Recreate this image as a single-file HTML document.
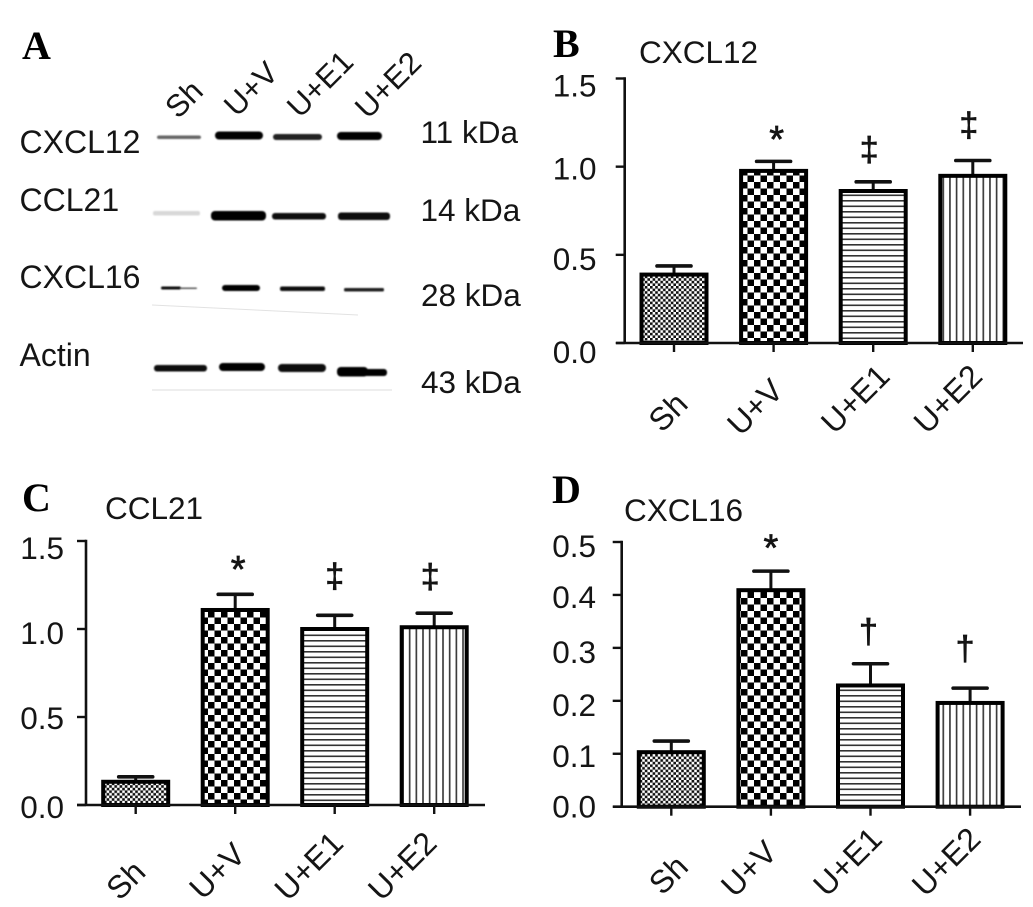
<!DOCTYPE html>
<html lang="en">
<head>
<meta charset="utf-8">
<title>CXCL12, CCL21 and CXCL16 expression</title>
<style>
html,body{margin:0;padding:0;background:#fff;width:1033px;height:907px;overflow:hidden}
svg{display:block;filter:blur(0.3px)}
text{font-family:"Liberation Sans",sans-serif;fill:#151515}
.letter{font-family:"Liberation Serif",serif;font-weight:bold;font-size:40px;fill:#000}
</style>
</head>
<body>
<svg id="figure" xmlns="http://www.w3.org/2000/svg" width="1033" height="907" viewBox="0 0 1033 907">
<defs>
<filter id="soft" x="-20%" y="-100%" width="140%" height="300%"><feGaussianBlur stdDeviation="0.9"/></filter>
<pattern id="fine-check" patternUnits="userSpaceOnUse" width="5.2" height="5.2"><rect width="5.2" height="5.2" fill="#fff"/><rect width="2.6" height="2.6" fill="#111"/><rect x="2.6" y="2.6" width="2.6" height="2.6" fill="#111"/></pattern>
<pattern id="coarse-check" patternUnits="userSpaceOnUse" width="13" height="13"><rect width="13" height="13" fill="#fff"/><rect width="6.5" height="6.5" fill="#000"/><rect x="6.5" y="6.5" width="6.5" height="6.5" fill="#000"/></pattern>
<pattern id="h-lines" patternUnits="userSpaceOnUse" width="5.5" height="5.5"><rect width="5.5" height="5.5" fill="#fff"/><rect y="2" width="5.5" height="1.6" fill="#333"/></pattern>
<pattern id="v-lines" patternUnits="userSpaceOnUse" width="6.67" height="6.67"><rect width="6.67" height="6.67" fill="#fff"/><rect x="2" width="1.6" height="6.67" fill="#333"/></pattern>
</defs>

<g>
<text class="letter" x="22" y="59">A</text>
<text x="184" y="99" font-size="31" text-anchor="middle" dominant-baseline="central" transform="rotate(-45 184 99)">Sh</text>
<text x="251" y="89" font-size="31" text-anchor="middle" dominant-baseline="central" transform="rotate(-45 251 89)">U+V</text>
<text x="320" y="84" font-size="31" text-anchor="middle" dominant-baseline="central" transform="rotate(-45 320 84)">U+E1</text>
<text x="388" y="85" font-size="31" text-anchor="middle" dominant-baseline="central" transform="rotate(-45 388 85)">U+E2</text>
<text x="19.5" y="153" font-size="32">CXCL12</text>
<text x="19.5" y="211" font-size="32">CCL21</text>
<text x="19.5" y="288" font-size="32">CXCL16</text>
<text x="19.5" y="366" font-size="32">Actin</text>
<text x="420.5" y="143" font-size="31.5">11 kDa</text>
<text x="420.5" y="221" font-size="31.5">14 kDa</text>
<text x="421" y="306" font-size="31.5">28 kDa</text>
<text x="421" y="393" font-size="31.5">43 kDa</text>
<g filter="url(#soft)">
<rect x="157" y="135.5" width="44" height="3.5" rx="2" fill="#666"/>
<rect x="215" y="131.5" width="48" height="8" rx="4" fill="#000"/>
<rect x="273" y="134" width="49" height="6" rx="3" fill="#222"/>
<rect x="337" y="132" width="45" height="8" rx="4" fill="#000"/>
<rect x="153" y="211" width="47" height="4.5" rx="2" fill="#d8d8d8"/>
<rect x="211" y="211" width="55" height="9.5" rx="4" fill="#000"/>
<rect x="272" y="213" width="54" height="6.5" rx="3" fill="#111"/>
<rect x="338" y="212.5" width="52" height="7.5" rx="3" fill="#111"/>
<rect x="161" y="286.5" width="20" height="3" rx="1.5" fill="#111"/>
<rect x="180" y="287.5" width="17" height="1.5" rx="1" fill="#555"/>
<rect x="222" y="285" width="38" height="6" rx="3" fill="#000"/>
<rect x="280" y="286.5" width="45" height="4.5" rx="2" fill="#111"/>
<rect x="344" y="288" width="40" height="3.5" rx="1.5" fill="#222"/>
<rect x="154" y="365" width="53" height="6.5" rx="3" fill="#111"/>
<rect x="219" y="363" width="46" height="8" rx="4" fill="#000"/>
<rect x="278" y="364" width="48" height="8" rx="4" fill="#0a0a0a"/>
<rect x="337" y="367" width="31" height="9.5" rx="4" fill="#000"/>
<rect x="363" y="369" width="24" height="7" rx="3" fill="#000"/>
</g>
<line x1="152" y1="305" x2="358" y2="315" stroke="#e2e2e2" stroke-width="1"/>
<line x1="152" y1="390" x2="392" y2="390" stroke="#dcdcdc" stroke-width="1"/>
</g>

<g id="charts"></g>
</svg>

<script>
// ---- Data ----
const categories = ['Sh', 'U+V', 'U+E1', 'U+E2'];

const cxcl12Means = [0.388, 0.976, 0.862, 0.948];
const cxcl12Errors = [0.049, 0.054, 0.052, 0.087];
const cxcl12Ticks = ['0.0', '0.5', '1.0', '1.5'];
const cxcl12Marks = ['', '*', '‡', '‡'];

const ccl21Means = [0.132, 1.108, 1.0, 1.01];
const ccl21Errors = [0.028, 0.089, 0.078, 0.08];
const ccl21Ticks = ['0.0', '0.5', '1.0', '1.5'];
const ccl21Marks = ['', '*', '‡', '‡'];

const cxcl16Means = [0.103, 0.409, 0.229, 0.196];
const cxcl16Errors = [0.021, 0.036, 0.041, 0.028];
const cxcl16Ticks = ['0.0', '0.1', '0.2', '0.3', '0.4', '0.5'];
const cxcl16Marks = ['', '*', '†', '†'];

const fills = ['fine-check', 'coarse-check', 'h-lines', 'v-lines'];
const SVGNS = 'http://www.w3.org/2000/svg';
const root = document.getElementById('charts');

function mk(parent, tag, attrs, txt) {
  const el = document.createElementNS(SVGNS, tag);
  for (const k in attrs) el.setAttribute(k, attrs[k]);
  if (txt !== undefined) el.textContent = txt;
  parent.appendChild(el);
  return el;
}

function drawPanel(cfg) {
  const yScale = v => cfg.y0 - (v / cfg.max) * (cfg.y0 - cfg.top);
  const xScale = i => cfg.x0 + i * cfg.step;

  const g = mk(root, 'g', {});
  
  

  const letter = mk(g, 'text', {class: 'letter', x: cfg.letter[0], y: cfg.letter[1]}, cfg.letter[2]);
  
  

  const title = mk(g, 'text', {x: cfg.title[0], y: cfg.title[1], 'font-size': 31.5}, cfg.title[2]);
  
  

  // bars
  cfg.means.forEach((m, i) => {
    const cx = xScale(i), yTop = yScale(m), yErr = yScale(m + cfg.errors[i]);
    const stem = mk(g, 'line', {x1: cx, x2: cx, y1: yTop, y2: yErr, stroke: '#111', 'stroke-width': 3});
    
    
    const cap = mk(g, 'line', {x1: cx - 17, x2: cx + 17, y1: yErr, y2: yErr, stroke: '#111', 'stroke-width': 3.6, 'stroke-linecap': 'round'});
    
    
    const bar = mk(g, 'rect', {x: cx - 32.5, y: yTop, width: 65, height: cfg.y0 - yTop,
      fill: 'url(#' + fills[i] + ')', stroke: '#000', 'stroke-width': 4});
    
    

    const sym = cfg.marks[i];
    if (sym) {
      const isStar = sym === '*';
      const markY = yErr - cfg.gaps[i] + (isStar ? 17.5 : 11);
      const mark = mk(g, 'text', {x: cx + cfg.markDx[i], y: markY, 'text-anchor': 'middle',
        'font-size': isStar ? 38 : 34, fill: '#111', stroke: '#111', 'stroke-width': 0.7}, sym);
      
      
    }
  });

  // axes
  const yAxis = mk(g, 'line', {x1: cfg.ax, x2: cfg.ax, y1: cfg.top - 1.2, y2: cfg.y0, stroke: '#111', 'stroke-width': 2.6});
  
  
  const xAxis = mk(g, 'line', {x1: cfg.xStart, x2: cfg.xEnd, y1: cfg.y0, y2: cfg.y0, stroke: '#111', 'stroke-width': 2.6});
  
  

  cfg.ticks.forEach((t, i) => {
    const y = yScale(parseFloat(t));
    const tick = mk(g, 'line', {x1: cfg.ax - 9, x2: cfg.ax, y1: y, y2: y, stroke: '#111', 'stroke-width': 2.4});
    
    
    const label = mk(g, 'text', {x: cfg.labelRight, y: y + cfg.tickNudge[i], 'text-anchor': 'end', 'font-size': 31.5}, t);
    
    
  });

  categories.forEach((c, i) => {
    const cx = xScale(i);
    const tick = mk(g, 'line', {x1: cx, x2: cx, y1: cfg.y0, y2: cfg.y0 + 9, stroke: '#111', 'stroke-width': 2.4});
    
    
    const lx = cx + cfg.catDx[i], ly = cfg.y0 + cfg.catDy[i];
    const label = mk(g, 'text', {x: lx, y: ly, 'text-anchor': 'middle', 'dominant-baseline': 'central',
      'font-size': 32, transform: 'rotate(-45 ' + lx + ' ' + ly + ')'}, c);
    
    
  });
}

drawPanel({key: 'b', means: cxcl12Means, errors: cxcl12Errors, ticks: cxcl12Ticks, marks: cxcl12Marks, max: 1.5,
  top: 78.5, y0: 343, ax: 624.7, xStart: 616, xEnd: 1023, x0: 674, step: 99.6, labelRight: 596.5,
  letter: [553, 57, 'B'], title: [639, 63, 'CXCL12'],
  tickNudge: [20, 15, 13, 18], catDx: [-6, -18.6, -18, -25], catDy: [69, 64, 56, 56],
  gaps: [0, 27, 32, 35], markDx: [0, 3, -4, -4]});

drawPanel({key: 'c', means: ccl21Means, errors: ccl21Errors, ticks: ccl21Ticks, marks: ccl21Marks, max: 1.5,
  top: 541, y0: 805, ax: 86, xStart: 77, xEnd: 485, x0: 135.7, step: 99.5, labelRight: 64,
  letter: [22, 511, 'C'], title: [105, 519, 'CCL21'],
  tickNudge: [13, 12, 15, 18], catDx: [-10, -18, -26, -32], catDy: [75, 66, 61, 61],
  gaps: [0, 30, 39, 36], markDx: [0, 3, 0, -4]});

drawPanel({key: 'd', means: cxcl16Means, errors: cxcl16Errors, ticks: cxcl16Ticks, marks: cxcl16Marks, max: 0.5,
  top: 542, y0: 806.7, ax: 621.7, xStart: 613, xEnd: 1021, x0: 671.3, step: 99.6, labelRight: 596,
  letter: [552, 503, 'D'], title: [624, 521, 'CXCL16'],
  tickNudge: [11, 13, 15, 15, 13, 15], catDx: [-3, -22, -23, -24], catDy: [68, 62, 55, 55],
  gaps: [0, 28, 32, 39], markDx: [0, 0, -2, -5]});
</script>
</body>
</html>
